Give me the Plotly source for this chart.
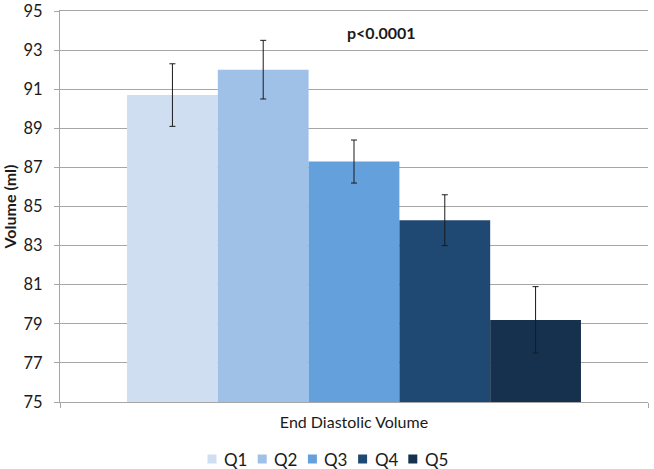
import plotly.graph_objects as go

category = ["End Diastolic Volume"]
series_names = ["Q1", "Q2", "Q3", "Q4", "Q5"]
values = [90.7, 92.0, 87.3, 84.3, 79.2]
errors = [1.6, 1.5, 1.1, 1.3, 1.7]
colors = ["#CFDFF1", "#9FC1E8", "#64A0DC", "#1F4872", "#16314E"]
y_ticks = [75, 77, 79, 81, 83, 85, 87, 89, 91, 93, 95]

FONT = "Lato, Open Sans, sans-serif"
W, H = 654, 469
ML, MR, MT, MB = 60, 6, 11, 67
PW, PH = W - ML - MR, H - MT - MB

fig = go.Figure()
for name, v, e, c in zip(series_names, values, errors, colors):
    fig.add_trace(go.Bar(
        x=category, y=[v], name=name,
        marker=dict(color=c, line=dict(width=0)),
        error_y=dict(type="data", array=[e], visible=True,
                     color="#1a1a1a", thickness=1, width=3),
        showlegend=False,
    ))

# manual compact legend (squares + labels), positioned in paper coordinates
shapes = []
annotations = []
leg_y = (MT + PH - 459) / PH
sq = 9
for i, (name, c) in enumerate(zip(series_names, colors)):
    cx = 212 + i * 50.2
    shapes.append(dict(type="rect", xref="paper", yref="paper",
                       x0=(cx - sq / 2 - ML) / PW, x1=(cx + sq / 2 - ML) / PW,
                       y0=leg_y - (sq / 2) / PH, y1=leg_y + (sq / 2) / PH,
                       fillcolor=c, line=dict(width=0)))
    annotations.append(dict(text=name, xref="paper", yref="paper",
                            x=(cx + 10 - ML) / PW, y=leg_y, xanchor="left",
                            yanchor="middle", showarrow=False,
                            font=dict(size=17, color="#1a1a1a")))

annotations.append(dict(text="<b>p<0.0001</b>", x=(381 - ML) / PW, xref="paper",
                        y=93.9, yref="y", showarrow=False,
                        font=dict(size=16, color="#1a1a1a")))

fig.update_layout(
    width=W, height=H,
    margin=dict(l=ML, r=MR, t=MT, b=MB, autoexpand=False),
    paper_bgcolor="white", plot_bgcolor="white",
    barmode="group", bargap=0.228, bargroupgap=0,
    font=dict(family=FONT, size=17, color="#1a1a1a"),
    showlegend=False,
    shapes=shapes,
    annotations=annotations,
)
fig.update_yaxes(
    range=[75, 95], tickvals=y_ticks, showgrid=True, gridcolor="#A6A6A6",
    gridwidth=1, showline=True, linecolor="#A6A6A6", linewidth=1,
    ticks="outside", ticklen=5, tickcolor="#A6A6A6",
    tickfont=dict(size=16.5), ticklabelstandoff=8, automargin=False,
    ticklabeloverflow="allow",
    title=dict(text="<b>Volume (ml)</b>", font=dict(size=16), standoff=4),
    zeroline=False,
)
fig.update_xaxes(
    showline=True, mirror=True, linecolor="#A6A6A6", linewidth=1,
    ticks="outside", tickson="boundaries", ticklen=5, tickcolor="#A6A6A6",
    tickfont=dict(size=16), automargin=False, ticklabelstandoff=6,
)

fig.write_html("out.html", config={"displayModeBar": False},
               post_script="document.body.style.margin='0';document.body.style.padding='0';")
